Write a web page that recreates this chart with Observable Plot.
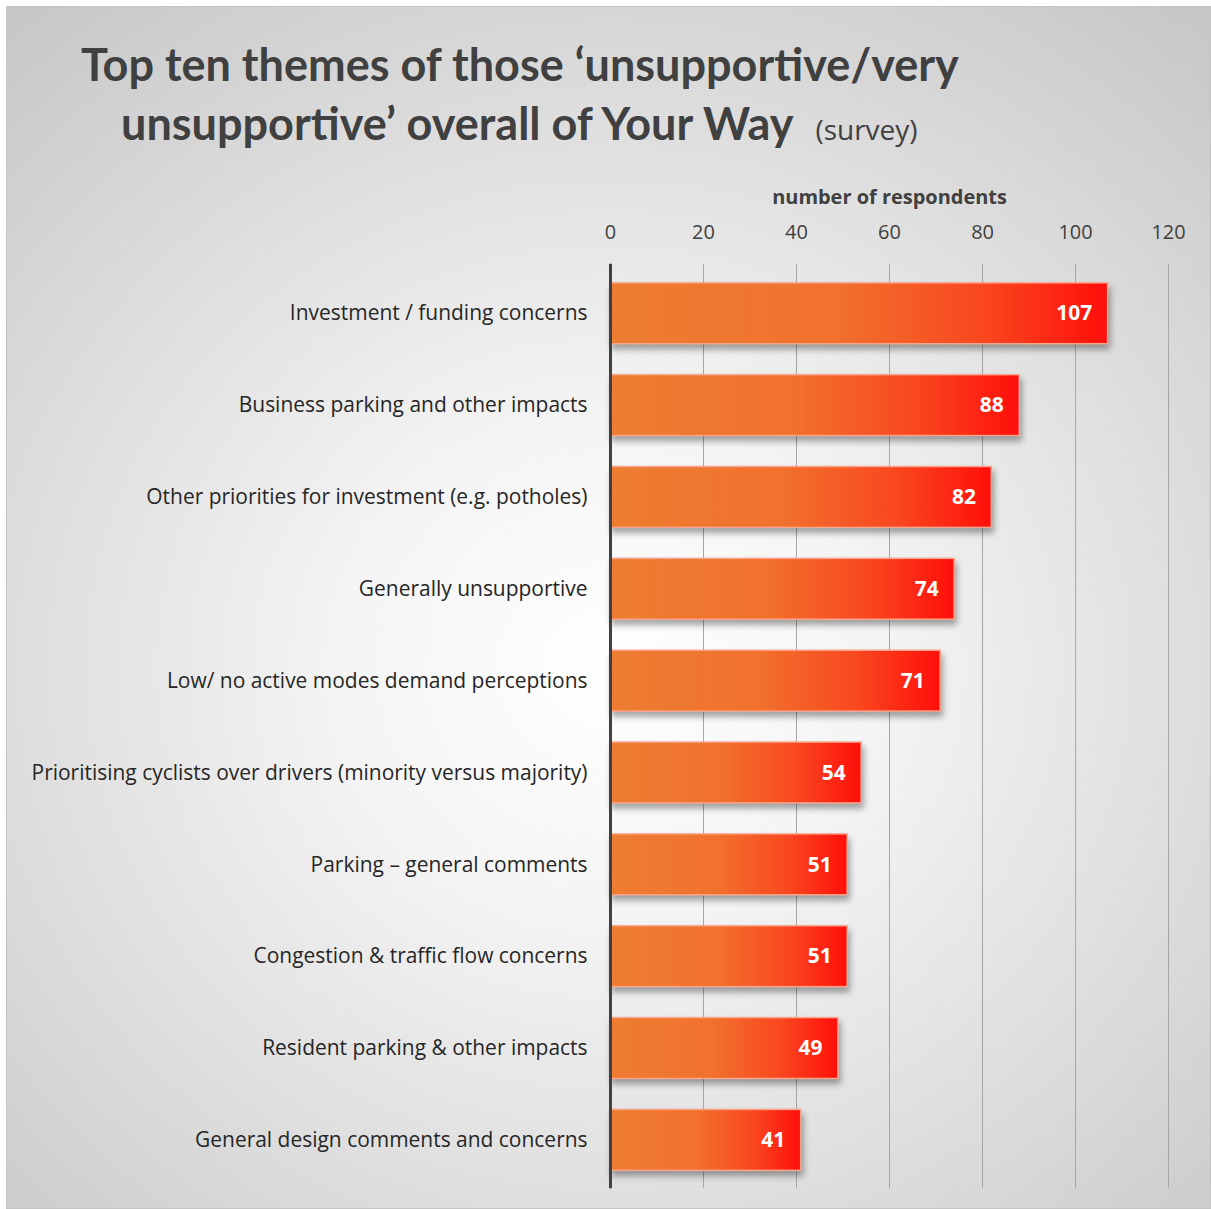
<!DOCTYPE html>
<html><head><meta charset="utf-8">
<script src="https://cdn.jsdelivr.net/npm/d3@7"></script>
<script src="https://cdn.jsdelivr.net/npm/@observablehq/plot@0.6"></script>
<style>
html,body{margin:0;padding:0;background:#fff;}
#frame{position:absolute;left:6px;top:6px;width:1205px;height:1203px;box-sizing:border-box;border:1px solid #c4c4c4;
background:radial-gradient(ellipse 75% 70% at 50% 55%, #ffffff 0%, #f4f4f4 30%, #dedede 65%, #c8c8c8 100%);overflow:hidden;}
#t1,#t2{position:absolute;font-family:Lato,"Open Sans",sans-serif;font-weight:700;color:#404040;white-space:nowrap;font-size:45px;}
#t1{left:74px;top:30px;}
#t2{left:114px;top:89px;}
#t2 span{font-weight:400;font-size:28px;font-family:"Open Sans",sans-serif;margin-left:22px;}
#chart{position:absolute;left:-6px;top:162px;}
#chart svg{display:block;}
</style></head>
<body>
<div id="frame">
<div id="t1">Top ten themes of those ‘unsupportive/very</div>
<div id="t2">unsupportive’ overall of Your Way<span>(survey)</span></div>
<div id="chart"></div>
</div>
<script>
const categories = [
  "Investment / funding concerns",
  "Business parking and other impacts",
  "Other priorities for investment (e.g. potholes)",
  "Generally unsupportive",
  "Low/ no active modes demand perceptions",
  "Prioritising cyclists over drivers (minority versus majority)",
  "Parking – general comments",
  "Congestion & traffic flow concerns",
  "Resident parking & other impacts",
  "General design comments and concerns"
];
const values = [107, 88, 82, 74, 71, 54, 51, 51, 49, 41];
const xTicks = [0, 20, 40, 60, 80, 100, 120];
const axisTitle = "number of respondents";

const data = categories.map((c, i) => ({category: c, value: values[i]}));

const plot = Plot.plot({
  width: 1211,
  height: 1043,
  marginTop: 95,
  marginBottom: 22,
  marginLeft: 610,
  marginRight: 42,
  style: {background: "transparent", fontFamily: "'Open Sans', sans-serif"},
  x: {domain: [0, 120], ticks: xTicks},
  y: {domain: categories, paddingInner: 0.34, paddingOuter: 0.16},
  marks: [
    Plot.ruleX(xTicks.filter(d => d > 0), {stroke: "#a6a6a6", strokeWidth: 1}),
    Plot.axisX({anchor: "top", ticks: xTicks, tickSize: 0, tickPadding: 25, label: null, fontSize: 20, color: "#404040"}),
    Plot.text([axisTitle], {frameAnchor: "top", dy: -75, fontSize: 20, fontWeight: "bold", fill: "#404040"}),
    Plot.axisY({tickSize: 0, tickPadding: 23, label: null, fontSize: 21, color: "#262626"}),
    Plot.barX(data, {x: "value", y: "category", fill: "url(#barGrad)", stroke: "#f9a58e", strokeWidth: 1.5}),
    Plot.ruleX([0], {stroke: "#404040", strokeWidth: 3}),
    Plot.text(data, {x: "value", y: "category", text: d => String(d.value), textAnchor: "end", dx: -16, fill: "white", fontWeight: "bold", fontSize: 21})
  ]
});

const defs = d3.select(plot).insert("defs", ":first-child");
const g = defs.append("linearGradient").attr("id", "barGrad").attr("x1", 0).attr("x2", 1).attr("y1", 0).attr("y2", 0);
[[0, "#ed7d31"], [0.45, "#f1712d"], [0.75, "#f9471f"], [1, "#ff0f0a"]].forEach(([o, c]) =>
  g.append("stop").attr("offset", o).attr("stop-color", c));
d3.select(plot).selectAll("g[aria-label='bar'] rect").style("filter", "drop-shadow(2px 5px 3px rgba(0,0,0,0.35))");

document.getElementById("chart").appendChild(plot);
</script>
</body></html>
